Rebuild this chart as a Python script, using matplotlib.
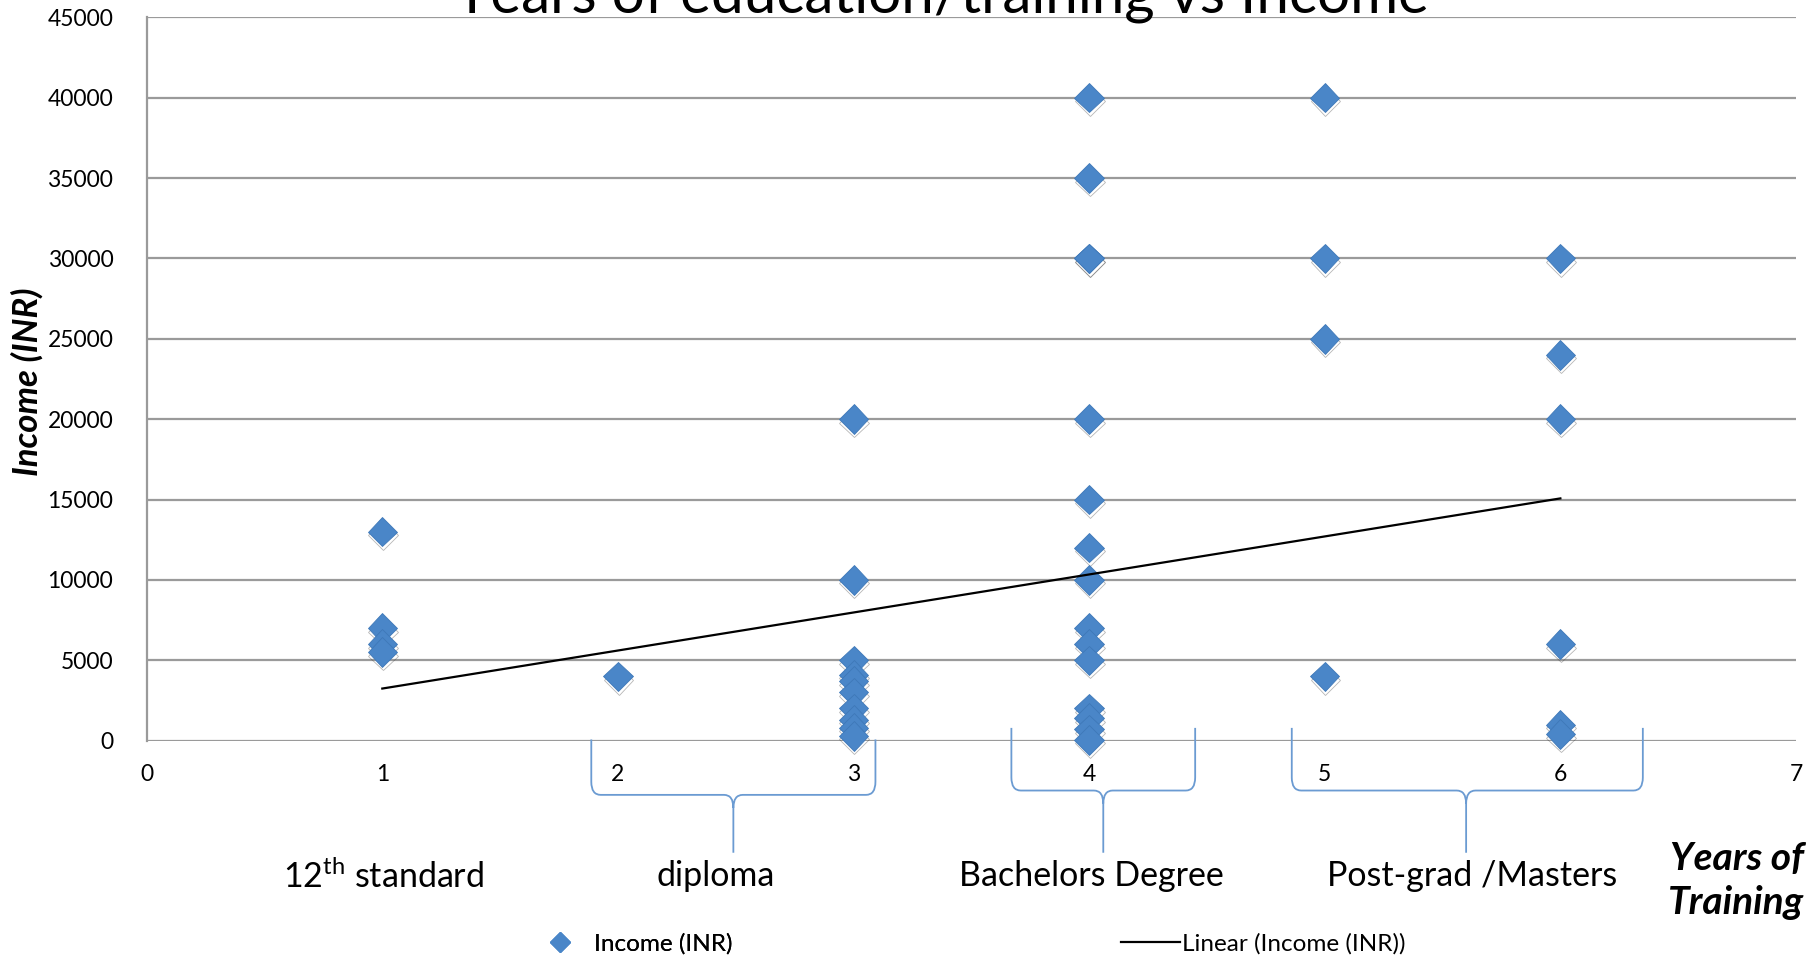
import matplotlib
matplotlib.use('Agg')
import matplotlib.pyplot as plt
import matplotlib.patheffects as pe
from matplotlib.path import Path
from matplotlib.patches import PathPatch
from matplotlib.lines import Line2D
import matplotlib.transforms as mtransforms

plt.rcParams['font.family'] = ['Lato', 'DejaVu Sans']
plt.rcParams['mathtext.fontset'] = 'custom'
plt.rcParams['mathtext.rm'] = 'Lato'

marker_color = '#4A86C8'
brace_color = '#6B9BD2'
grid_color = '#9A9A9A'

# years of training for each respondent, and income in INR
years_1 = [1, 1, 1, 1]
income_1 = [13000, 7000, 6000, 5500]
years_2 = [2]
income_2 = [4000]
years_3 = [3] * 10
income_3 = [20000, 10000, 5000, 4100, 3700, 3000, 2000, 1300, 800, 300]
years_4 = [4] * 15
income_4 = [40000, 35000, 30000, 30000, 20000, 15000, 12000, 10000,
            7000, 6000, 5000, 2000, 1400, 700, 50]
years_5 = [5] * 4
income_5 = [40000, 30000, 25000, 4000]
years_6 = [6] * 6
income_6 = [30000, 24000, 20000, 6000, 1000, 400]

years = years_1 + years_2 + years_3 + years_4 + years_5 + years_6
income = income_1 + income_2 + income_3 + income_4 + income_5 + income_6

# linear trend as drawn in the picture
trend_x = [1, 6]
trend_slope = 2366
trend_intercept = 874

x_ticks = [0, 1, 2, 3, 4, 5, 6, 7]
y_ticks = [0, 5000, 10000, 15000, 20000, 25000, 30000, 35000, 40000, 45000]

groups = ['12$^{\\mathrm{th}}$ standard', 'diploma', 'Bachelors Degree', 'Post-grad /Masters']


def fx(px):
    return px / 1568


def fy(py):
    return 1 - py / 830


fig = plt.figure(figsize=(18.11, 9.59), dpi=100)
ax = fig.add_axes([fx(127), fy(641), fx(1555) - fx(127), fy(15) - fy(641)])

ax.set_xlim(0, 7)
ax.set_ylim(0, 45000)
ax.set_xticks(x_ticks)
ax.set_yticks(y_ticks)
ax.yaxis.grid(True, color=grid_color, linewidth=1.6)
ax.set_axisbelow(True)
for s in ['top', 'right', 'bottom']:
    ax.spines[s].set_visible(False)
ax.spines['left'].set_color(grid_color)
ax.spines['left'].set_linewidth(1.6)
ax.tick_params(axis='both', length=0, labelsize=16.5)
ax.tick_params(axis='x', pad=17)
ax.tick_params(axis='y', pad=24)

shadow = [pe.SimpleLineShadow(offset=(0.5, -2.5), shadow_color='#303030', alpha=0.35),
          pe.Normal()]
pts, = ax.plot(years, income, linestyle='none', marker='D', markersize=15,
               color=marker_color, markeredgecolor='#3E78B8', markeredgewidth=0.6,
               label='Income (INR)', zorder=3, clip_on=False)
pts.set_path_effects(shadow)

tx = trend_x
ty = [trend_slope * v + trend_intercept for v in tx]
trend, = ax.plot(tx, ty, color='black', linewidth=1.6, label='Linear (Income (INR))', zorder=4)

fig.text(fx(815), fy(11), 'Years of education/training vs Income', fontsize=42,
         ha='center', va='baseline')

fig.text(fx(24), fy(330), 'Income (INR)', fontsize=25, fontweight='bold',
         fontstyle='italic', rotation=90, ha='center', va='center')
fig.text(fx(1562), fy(762), 'Years of\nTraining', fontsize=28, fontweight='bold',
         fontstyle='italic', ha='right', va='center', linespacing=1.3)

group_x = [332, 620, 945, 1275]
for gx, name in zip(group_x, groups):
    fig.text(fx(gx), fy(758), name, fontsize=24.5, ha='center', va='center')


# curly braces under the axis: x in data units, y in axes fraction
def brace(x0, x1, xc, ytop, yh, ybot):
    rx = 0.04
    ry = 0.018
    verts = [(x0, ytop), (x0, yh + ry), (x0, yh), (x0 + rx, yh),
             (xc - rx, yh), (xc, yh), (xc, yh - ry), (xc, ybot),
             (xc, yh - ry), (xc, yh), (xc + rx, yh),
             (x1 - rx, yh), (x1, yh), (x1, yh + ry), (x1, ytop)]
    codes = [Path.MOVETO, Path.LINETO, Path.CURVE3, Path.CURVE3,
             Path.LINETO, Path.CURVE3, Path.CURVE3, Path.LINETO,
             Path.MOVETO, Path.CURVE3, Path.CURVE3,
             Path.LINETO, Path.CURVE3, Path.CURVE3, Path.LINETO]
    trans = mtransforms.blended_transform_factory(ax.transData, ax.transAxes)
    ax.add_patch(PathPatch(Path(verts, codes), facecolor='none', edgecolor=brace_color,
                           linewidth=1.3, transform=trans, clip_on=False))


brace(1.887, 3.093, 2.49, 0.0016, -0.075, -0.155)
brace(3.67, 4.45, 4.06, 0.0176, -0.069, -0.155)
brace(4.86, 6.35, 5.60, 0.0176, -0.069, -0.155)

leg_marker = Line2D([], [], linestyle='none', marker='D', markersize=10, color=marker_color)
leg1 = fig.legend([leg_marker], ['Income (INR)'], loc='center left',
                  bbox_to_anchor=(fx(449), fy(817)), frameon=False, fontsize=17.5,
                  handlelength=1.6, handletextpad=0.6)
fig.add_artist(leg1)
fig.legend([trend], ['Linear (Income (INR))'], loc='center left',
           bbox_to_anchor=(fx(952), fy(817)), frameon=False, fontsize=17.5,
           handlelength=2.4, handletextpad=0.1)

fig.savefig('out.png', dpi=100)
